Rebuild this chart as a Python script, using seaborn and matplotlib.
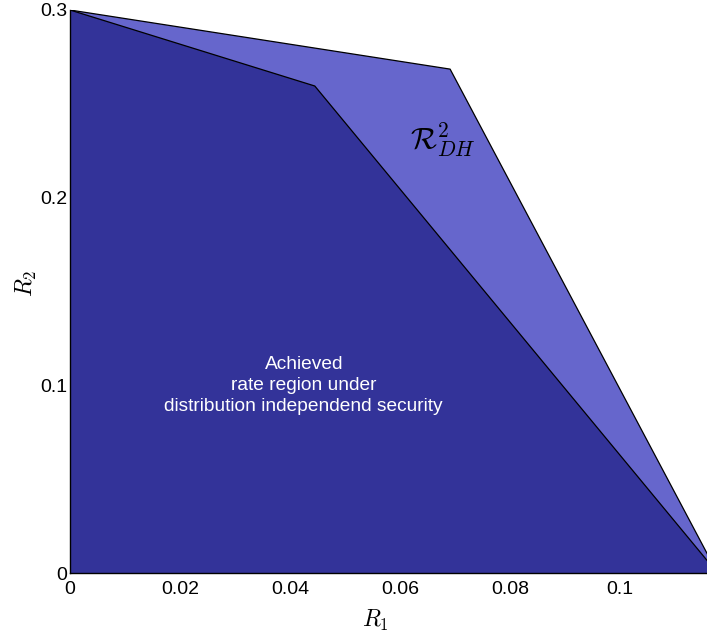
import matplotlib
matplotlib.use("Agg")
import matplotlib.pyplot as plt
import seaborn as sns
import pandas as pd

# Data (region corner points)
outer_r1 = [0.0, 0.0691, 0.1177]
outer_r2 = [0.30, 0.2685, 0.0]
inner_r1 = [0.0, 0.0445, 0.1177]
inner_r2 = [0.30, 0.2595, 0.0]
xticks = [0, 0.02, 0.04, 0.06, 0.08, 0.1]
yticks = [0, 0.1, 0.2, 0.3]

sns.set_style("white")
plt.rcParams['mathtext.fontset'] = 'cm'
plt.rcParams['font.family'] = ['Liberation Sans', 'DejaVu Sans']

fig = plt.figure(figsize=(7.07, 6.39), dpi=100)
ax = fig.add_axes([70/707, 66/639, 1 - 70/707, 563/639])

outer = pd.DataFrame({"R1": outer_r1 + [0.0], "R2": outer_r2 + [0.0]})
inner = pd.DataFrame({"R1": inner_r1 + [0.0], "R2": inner_r2 + [0.0]})

ax.fill(outer["R1"], outer["R2"], color="#6666CC", zorder=1, lw=0)
ax.fill(inner["R1"], inner["R2"], color="#333399", zorder=2, lw=0)
sns.lineplot(x=outer_r1, y=outer_r2, sort=False, color="black", lw=0.9, ax=ax, zorder=3)
sns.lineplot(x=inner_r1, y=inner_r2, sort=False, color="black", lw=0.9, ax=ax, zorder=3)

ax.set_xlim(0, 0.1158)
ax.set_ylim(0, 0.3)
ax.set_xticks(xticks)
ax.set_xticklabels(["0", "0.02", "0.04", "0.06", "0.08", "0.1"])
ax.set_yticks(yticks)
ax.set_yticklabels(["0", "0.1", "0.2", "0.3"])
ax.tick_params(length=0, labelsize=14, colors="black")
ax.tick_params(axis="x", pad=6)
ax.tick_params(axis="y", pad=2)

for s in ["top", "right"]:
    ax.spines[s].set_visible(False)
for s in ["left", "bottom"]:
    ax.spines[s].set_color("black")
    ax.spines[s].set_linewidth(1.0)
    ax.spines[s].set_zorder(4)

ax.set_xlabel("$R_1$", fontsize=17, color="black")
ax.set_ylabel("$R_2$", fontsize=17, color="black")
ax.xaxis.set_label_coords((375 - 70) / 637, -(620 - 573) / 563)
ax.xaxis.label.set_va("center")
ax.yaxis.set_label_coords(-(70 - 26) / 637, (573 - 283) / 563)
ax.yaxis.label.set_va("center")

ax.text(0.0618, 0.231, r"$\mathcal{R}_{DH}^2$", fontsize=22, ha="left", va="center", color="black", zorder=5)
ax.text(0.0425, 0.1, "Achieved\nrate region under\ndistribution independend security",
        color="white", fontsize=13.8, ha="center", va="center", linespacing=1.3, zorder=5)

fig.savefig("out.png", dpi=100)
